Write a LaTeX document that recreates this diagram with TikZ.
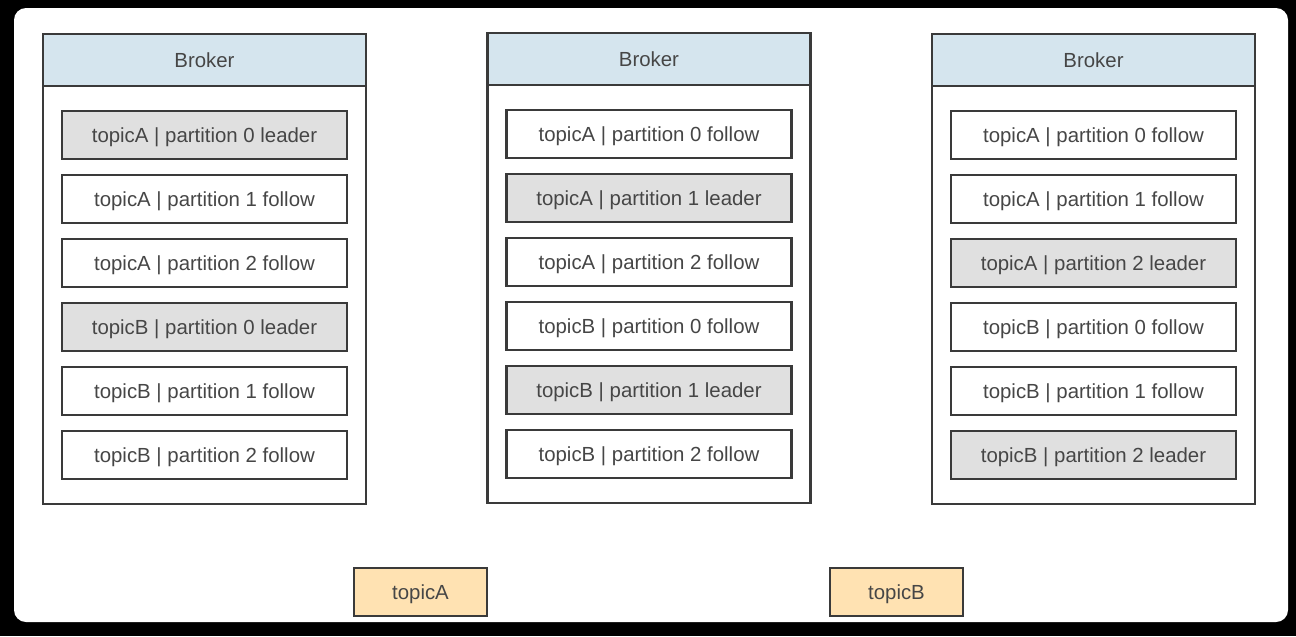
\documentclass[tikz,border=0pt]{standalone}
\usepackage{fontspec}
\setmainfont{Liberation Sans}

\definecolor{brokerblue}{RGB}{213,229,238}
\definecolor{leadergray}{RGB}{224,224,224}
\definecolor{topicorange}{RGB}{255,226,178}
\definecolor{linegray}{RGB}{58,58,58}
\definecolor{textgray}{RGB}{70,70,70}

\tikzset{every picture/.style={line width=1.8pt}}
\tikzset{
  labelfont/.style={text=textgray, font=\fontsize{15.3}{18}\selectfont, text height=10.9pt, text depth=0pt},
  brokerhead/.style={draw=linegray, fill=brokerblue, minimum width=242.25pt, minimum height=39pt, inner sep=0pt, labelfont},
  brokerbody/.style={draw=linegray, fill=white, minimum width=242.25pt, minimum height=313.5pt, inner sep=0pt},
  follow/.style={draw=linegray, fill=white, minimum width=213.75pt, minimum height=36pt, inner sep=0pt, labelfont},
  leader/.style={follow, fill=leadergray},
  topicbox/.style={draw=linegray, fill=topicorange, minimum width=99.75pt, minimum height=36pt, inner sep=0pt, labelfont}
}

\begin{document}
\begin{tikzpicture}[x=0.75pt,y=0.75pt,yscale=-1,xscale=1]
	\useasboundingbox (0,0) rectangle (1296,636);

	%Shape: Frame
	\fill [black] (0,0) rectangle (1296,636) ;
	\fill [white, rounded corners=9pt] (14,8) rectangle (1288,622) ;

	%Broker 1
	\node [brokerbody] (bodyOne) at (204.5,295) {};
	\node [brokerhead] (headOne) at (204.5,60) {Broker};
	\node [leader] (oneAzero) at (204.5,135) {topicA | partition 0 leader};
	\node [follow] (oneAone) at (204.5,199) {topicA | partition 1 follow};
	\node [follow] (oneAtwo) at (204.5,263) {topicA | partition 2 follow};
	\node [leader] (oneBzero) at (204.5,327) {topicB | partition 0 leader};
	\node [follow] (oneBone) at (204.5,391) {topicB | partition 1 follow};
	\node [follow] (oneBtwo) at (204.5,455) {topicB | partition 2 follow};

	%Broker 2
	\node [brokerbody] (bodyTwo) at (649,294) {};
	\node [brokerhead] (headTwo) at (649,59) {Broker};
	\node [follow] (twoAzero) at (649,134) {topicA | partition 0 follow};
	\node [leader] (twoAone) at (649,198) {topicA | partition 1 leader};
	\node [follow] (twoAtwo) at (649,262) {topicA | partition 2 follow};
	\node [follow] (twoBzero) at (649,326) {topicB | partition 0 follow};
	\node [leader] (twoBone) at (649,390) {topicB | partition 1 leader};
	\node [follow] (twoBtwo) at (649,454) {topicB | partition 2 follow};

	%Broker 3
	\node [brokerbody] (bodyThree) at (1093.5,295) {};
	\node [brokerhead] (headThree) at (1093.5,60) {Broker};
	\node [follow] (threeAzero) at (1093.5,135) {topicA | partition 0 follow};
	\node [follow] (threeAone) at (1093.5,199) {topicA | partition 1 follow};
	\node [leader] (threeAtwo) at (1093.5,263) {topicA | partition 2 leader};
	\node [follow] (threeBzero) at (1093.5,327) {topicB | partition 0 follow};
	\node [follow] (threeBone) at (1093.5,391) {topicB | partition 1 follow};
	\node [leader] (threeBtwo) at (1093.5,455) {topicB | partition 2 leader};

	% Text Node
	\node [topicbox] (topicA) at (420.5,592) {topicA};
	% Text Node
	\node [topicbox] (topicB) at (896.5,592) {topicB};

\end{tikzpicture}
\end{document}
